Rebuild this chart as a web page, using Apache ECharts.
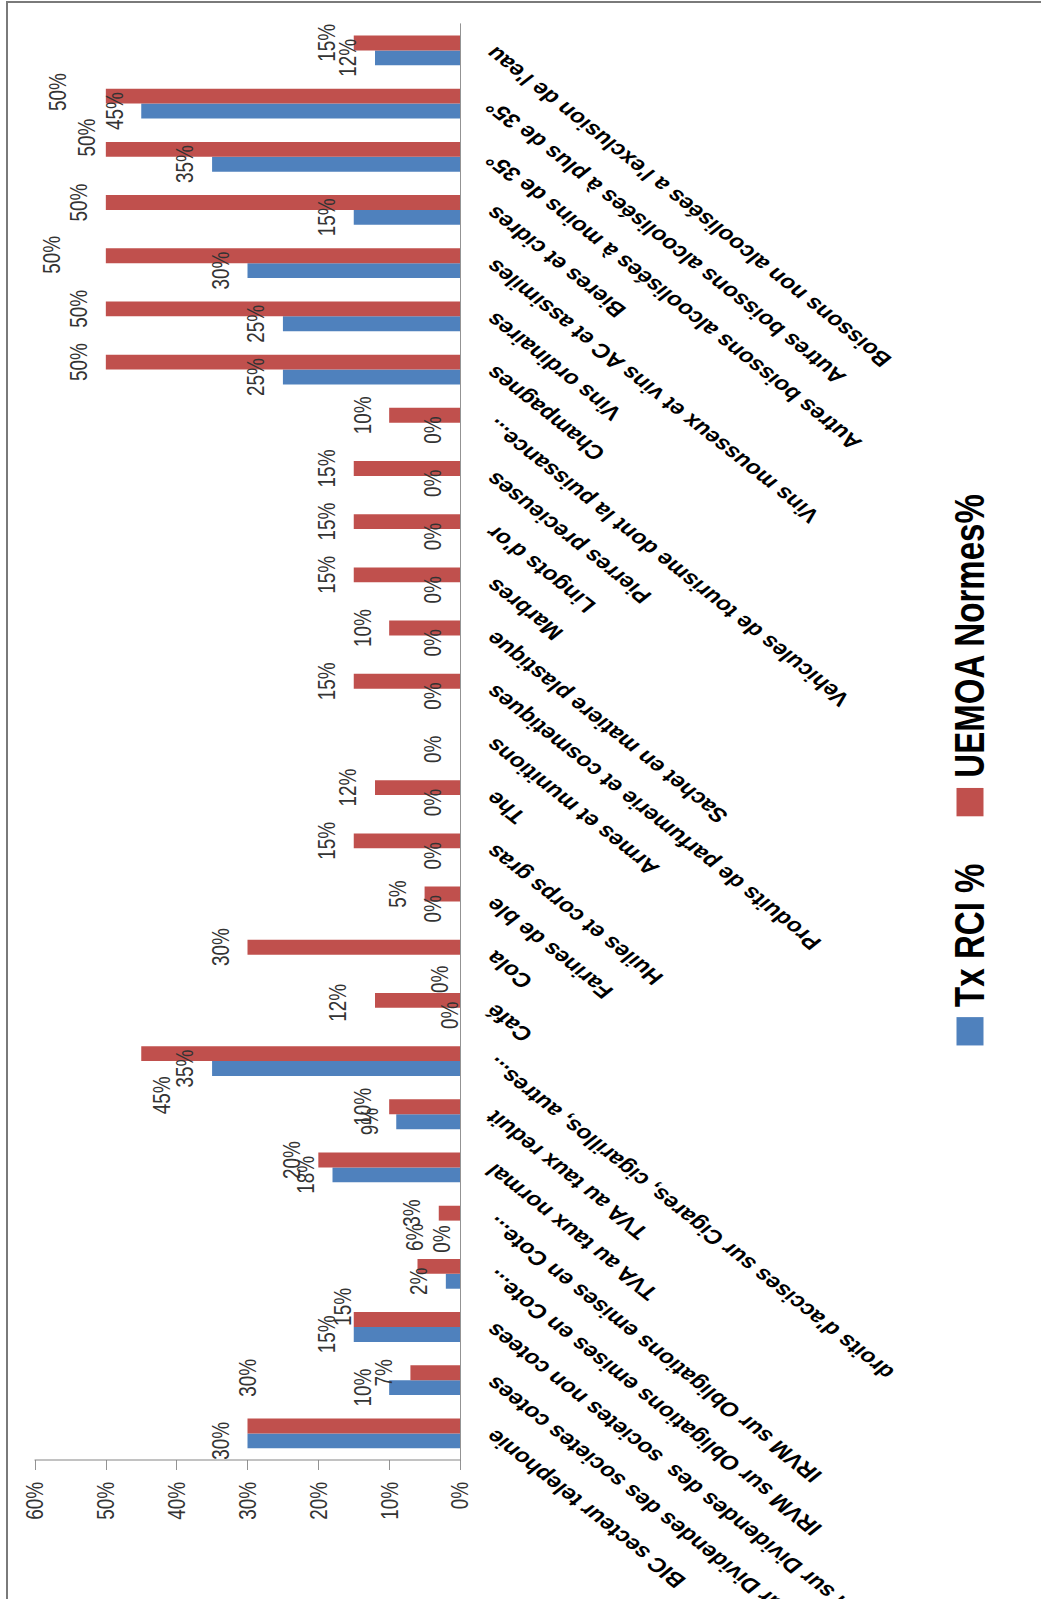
<!DOCTYPE html>
<html>
<head>
<meta charset="utf-8">
<script src="https://cdn.jsdelivr.net/npm/echarts@6/dist/echarts.min.js"></script>
<style>
  html, body { margin:0; padding:0; background:#fff; overflow:hidden; width:1041px; height:1599px; }
  #frame { position:absolute; left:6px; top:1px; width:1100px; height:1700px;
           border-left:2px solid #7a7a7a; border-top:2px solid #7a7a7a; }
  #main { position:absolute; left:0; top:0; height:1041px; transform-origin:0 0; }
</style>
</head>
<body>
<div id="frame"></div>
<div id="main"></div>
<script>
  // categories, first one ends up at the bottom of the picture
  var categories = [
    "BIC secteur telephonie",
    "IRVM sur Dividendes des societes cotees",
    "IRVM sur Dividendes des  societes non cotees",
    "IRVM sur Obligations emises en Cote...",
    "IRVM sur Obligations emises en Cote...",
    "TVA au taux normal",
    "TVA au taux reduit",
    "droits d'accises sur Cigares, cigarillos, autres...",
    "Café",
    "Cola",
    "Farines de ble",
    "Huiles et corps gras",
    "The",
    "Armes et munitions",
    "Produits de parfumerie et cosmetiques",
    "Sachet en matiere plastique",
    "Marbres",
    "Lingots d'or",
    "Pierres precieuses",
    "Vehicules de tourisme dont la puissance...",
    "Champagnes",
    "Vins ordinaires",
    "Vins mousseux et vins AC et assimiles",
    "Bieres et cidres",
    "Autres boissons alcoolisées à moins de 35°",
    "Autres boissons alcoolisées à plus de 35°",
    "Boissons non alcoolisées a l'exclusion de l'eau"
  ];
  var seriesNames = ["Tx RCI %", "UEMOA Normes%"];
  var txRci  = [30,10,15,2,0,18,9,35,0,0,0,0,0,0,0,0,0,0,0,0,25,25,30,15,35,45,12];
  var uemoa  = [30,7,15,6,3,20,10,45,12,30,5,15,12,null,15,10,15,15,15,10,50,50,50,50,50,50,15];

  // a few labels were dragged by hand in the original
  var txShift = {4:[-14,9], 8:[0,17], 9:[-22,7]};
  var uemoaShift = {0:[61,27], 2:[16,16], 3:[37,24], 7:[-53,47], 8:[-3,-10], 22:[1,-27], 24:[15,8], 25:[5,-21]};

  // the chart is drawn upright, squeezed and turned a quarter left
  var K = 1.27;
  var W = Math.round(1599 * K);
  var dom = document.getElementById('main');
  dom.style.width = W + 'px';
  dom.style.transform = 'translateY(1599px) rotate(-90deg) scaleX(' + (1 / K) + ')';

  function withShift(vals, shift) {
    return vals.map(function (v, i) {
      if (shift[i]) return { value: v, label: { offset: shift[i] } };
      return v;
    });
  }

  var font = "'Liberation Sans', Arial, sans-serif";
  var myChart = echarts.init(dom, null, { renderer: 'svg' });
  myChart.setOption({
    animation: false,
    color: ['#4F81BD', '#C0504D'],
    grid: {
      left: 139 * K, right: 24 * K, top: 35, bottom: 581,
      containLabel: false, outerBoundsMode: 'none'
    },
    legend: {
      data: seriesNames,
      left: 698, top: 944,
      icon: 'rect',
      itemWidth: 36, itemHeight: 27,
      itemGap: 60,
      textStyle: { fontFamily: font, fontSize: 42, fontWeight: 'bold', color: '#000', padding: [0, 0, 0, 8] }
    },
    xAxis: {
      type: 'category',
      data: categories,
      axisLine: { lineStyle: { color: '#868686', width: 1 } },
      axisTick: { length: 10, lineStyle: { color: '#868686', width: 1.3 } },
      axisLabel: {
        interval: 0, rotate: 45, margin: 30,
        fontFamily: font, fontSize: 25, fontWeight: 'bold', color: '#000'
      }
    },
    yAxis: {
      type: 'value',
      min: 0, max: 60, interval: 10,
      splitLine: { show: false },
      axisLine: { show: true, lineStyle: { color: '#868686', width: 1.3 } },
      axisTick: { show: true, length: 10 * K, lineStyle: { color: '#868686', width: 1 } },
      axisLabel: { formatter: '{value}%', margin: 22 * K, fontFamily: font, fontSize: 24, color: '#333' }
    },
    series: [
      {
        name: seriesNames[0], type: 'bar',
        data: withShift(txRci, txShift),
        barGap: '0%', barCategoryGap: '44%',
        label: { show: true, position: 'top', distance: 15, formatter: '{c}%',
                 fontFamily: font, fontSize: 24, color: '#333' }
      },
      {
        name: seriesNames[1], type: 'bar',
        data: withShift(uemoa, uemoaShift),
        barGap: '0%', barCategoryGap: '44%',
        label: { show: true, position: 'top', distance: 15, formatter: '{c}%',
                 fontFamily: font, fontSize: 24, color: '#333' }
      }
    ]
  });
</script>
</body>
</html>
